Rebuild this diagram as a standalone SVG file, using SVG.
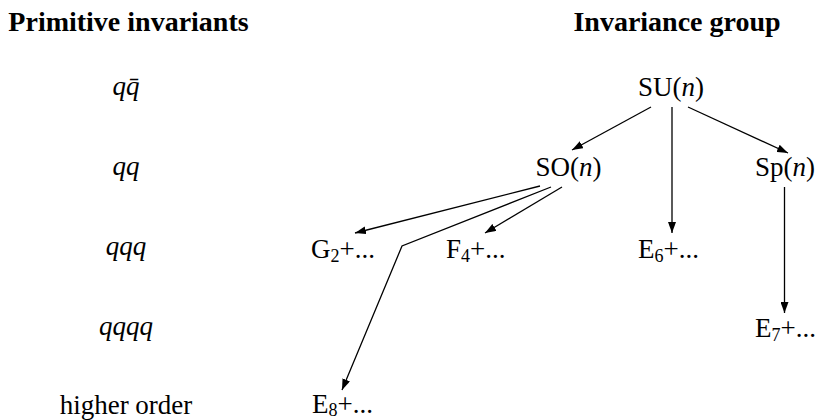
<svg xmlns="http://www.w3.org/2000/svg" width="817" height="420" viewBox="0 0 817 420">
<style>
text{font-family:"Liberation Serif","Times New Roman",serif;font-size:27px;fill:#000}
.h{font-weight:bold;font-size:28px}
.i{font-style:italic}
.lbl{text-anchor:middle}
.sub{font-size:18px}
.c{fill:none;stroke:#000;stroke-width:1.3}
</style>
<defs>
<marker id="ah" markerUnits="userSpaceOnUse" markerWidth="11" markerHeight="8" refX="11" refY="4" orient="auto">
<path d="M0,0 L11,4 L0,8 z" fill="#000"/>
</marker>
</defs>
<g id="headers">
<text class="h lbl" x="128.5" y="31">Primitive invariants</text>
<text class="h lbl" x="677" y="31">Invariance group</text>
</g>
<g id="invariants">
<text class="i lbl" x="126" y="95">qq̄</text>
<text class="i lbl" x="126" y="175">qq</text>
<text class="i lbl" x="126" y="255">qqq</text>
<text class="i lbl" x="126" y="335">qqqq</text>
<text class="lbl" x="126" y="414">higher order</text>
</g>
<g id="SU"><text class="lbl" x="671" y="96">SU(<tspan class="i">n</tspan>)</text></g>
<g id="SO"><text class="lbl" x="568.5" y="176">SO(<tspan class="i">n</tspan>)</text></g>
<g id="Sp"><text class="lbl" x="785" y="176">Sp(<tspan class="i">n</tspan>)</text></g>
<g id="G2"><text x="311" y="258">G<tspan class="sub" dy="4">2</tspan><tspan dy="-4">+...</tspan></text></g>
<g id="F4"><text x="446" y="258">F<tspan class="sub" dy="4">4</tspan><tspan dy="-4">+...</tspan></text></g>
<g id="E6"><text x="638" y="258">E<tspan class="sub" dy="4">6</tspan><tspan dy="-4">+...</tspan></text></g>
<g id="E7"><text x="755" y="337">E<tspan class="sub" dy="4">7</tspan><tspan dy="-4">+...</tspan></text></g>
<g id="E8"><text x="312" y="413">E<tspan class="sub" dy="3">8</tspan><tspan dy="-3">+...</tspan></text></g>
<g id="connectors">
<line class="c" x1="651" y1="107" x2="572" y2="150" marker-end="url(#ah)"/>
<line class="c" x1="672" y1="107" x2="672" y2="233" marker-end="url(#ah)"/>
<line class="c" x1="688" y1="107" x2="788" y2="153" marker-end="url(#ah)"/>
<line class="c" x1="784.5" y1="187" x2="784.5" y2="313" marker-end="url(#ah)"/>
<line class="c" x1="540" y1="186" x2="355" y2="233" marker-end="url(#ah)"/>
<line class="c" x1="562" y1="187" x2="485" y2="233" marker-end="url(#ah)"/>
<polyline class="c" points="551,187 402,246 342,390" marker-end="url(#ah)"/>
</g>
</svg>
